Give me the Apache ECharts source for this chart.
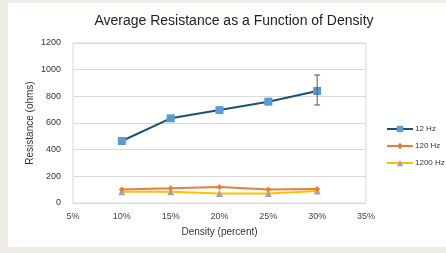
<!DOCTYPE html>
<html><head><meta charset="utf-8">
<script src="https://cdn.jsdelivr.net/npm/echarts@6/dist/echarts.min.js"></script>
<style>
html,body{margin:0;padding:0;background:#eeece4;}
#wrap{position:absolute;left:8px;top:3px;width:438px;height:244px;background:#fff;}
#c{position:absolute;left:0;top:0;width:446px;height:253px;}
</style></head><body>
<div id="wrap"></div>
<div id="c"></div>
<script>
const density = [10, 15, 20, 25, 30];
const hz12 = [465, 635, 697, 760, 840];
const hz120 = [102, 110, 120, 102, 105];
const hz1200 = [85, 85, 72, 72, 90];
const err12Low = [null, null, null, null, 735];
const err12High = [null, null, null, null, 960];
const seriesNames = ['12 Hz', '120 Hz', '1200 Hz'];

const chart = echarts.init(document.getElementById('c'), null, {renderer: 'canvas'});
const font = 'Liberation Sans, Arial, sans-serif';
const pairs = a => density.map((d, i) => [d, a[i]]);
const errData = density.map((d, i) => [d, err12Low[i], err12High[i]]).filter(r => r[1] != null);

chart.setOption({
  backgroundColor: 'transparent',
  animation: false,
  title: {text: 'Average Resistance as a Function of Density', left: 229, top: 9, textAlign: 'center',
    textStyle: {fontFamily: font, fontSize: 14, fontWeight: 'normal', color: '#222'}},
  legend: {
    orient: 'vertical', left: 381, top: 120, itemGap: 9, itemWidth: 26, itemHeight: 8,
    textStyle: {fontFamily: font, fontSize: 8, color: '#333', padding: [0, 0, 0, -3]},
    data: seriesNames
  },
  grid: {left: 73, right: 80, top: 43, bottom: 50, show: true, borderColor: '#d9d9d9', borderWidth: 1},
  xAxis: {
    type: 'value', min: 5, max: 35, interval: 5,
    name: 'Density (percent)', nameLocation: 'middle', nameGap: 24,
    nameTextStyle: {fontFamily: font, fontSize: 10, color: '#333'},
    axisLine: {show: false}, axisTick: {show: false}, splitLine: {show: false},
    axisLabel: {formatter: '{value}%', fontFamily: font, fontSize: 9, color: '#444', margin: 9}
  },
  yAxis: {
    type: 'value', min: 0, max: 1200, interval: 200,
    name: 'Resistance (ohms)', nameLocation: 'middle', nameGap: 38, nameMoveOverlap: false,
    nameTextStyle: {fontFamily: font, fontSize: 10, color: '#333'},
    axisLine: {show: false}, axisTick: {show: false},
    splitLine: {lineStyle: {color: '#d9d9d9', width: 1}},
    axisLabel: {formatter: v => String(v), fontFamily: font, fontSize: 9, color: '#333', margin: 12}
  },
  series: [
    {name: seriesNames[0], type: 'line', data: pairs(hz12), symbol: 'rect', symbolSize: 8,
      lineStyle: {color: '#1f4e79', width: 2}, itemStyle: {color: '#5b9bd5'}, z: 3},
    {name: seriesNames[1], type: 'line', data: pairs(hz120), symbol: 'diamond', symbolSize: 6,
      lineStyle: {color: '#ed7d31', width: 2}, itemStyle: {color: '#ed7d31'}, z: 2},
    {name: seriesNames[2], type: 'line', data: pairs(hz1200), symbol: 'triangle', symbolSize: 7,
      lineStyle: {color: '#ffc000', width: 2}, itemStyle: {color: '#a5a5a5'}, z: 1},
    {type: 'custom', name: 'err', data: errData, z: 4,
      renderItem: function (params, api) {
        const x = api.value(0);
        const lo = api.coord([x, api.value(1)]);
        const hi = api.coord([x, api.value(2)]);
        const w = 3;
        const st = {stroke: '#555', lineWidth: 1};
        return {type: 'group', children: [
          {type: 'line', shape: {x1: lo[0], y1: lo[1], x2: hi[0], y2: hi[1]}, style: st},
          {type: 'line', shape: {x1: lo[0]-w, y1: lo[1], x2: lo[0]+w, y2: lo[1]}, style: st},
          {type: 'line', shape: {x1: hi[0]-w, y1: hi[1], x2: hi[0]+w, y2: hi[1]}, style: st}
        ]};
      }}
  ]
});
</script>
</body></html>
